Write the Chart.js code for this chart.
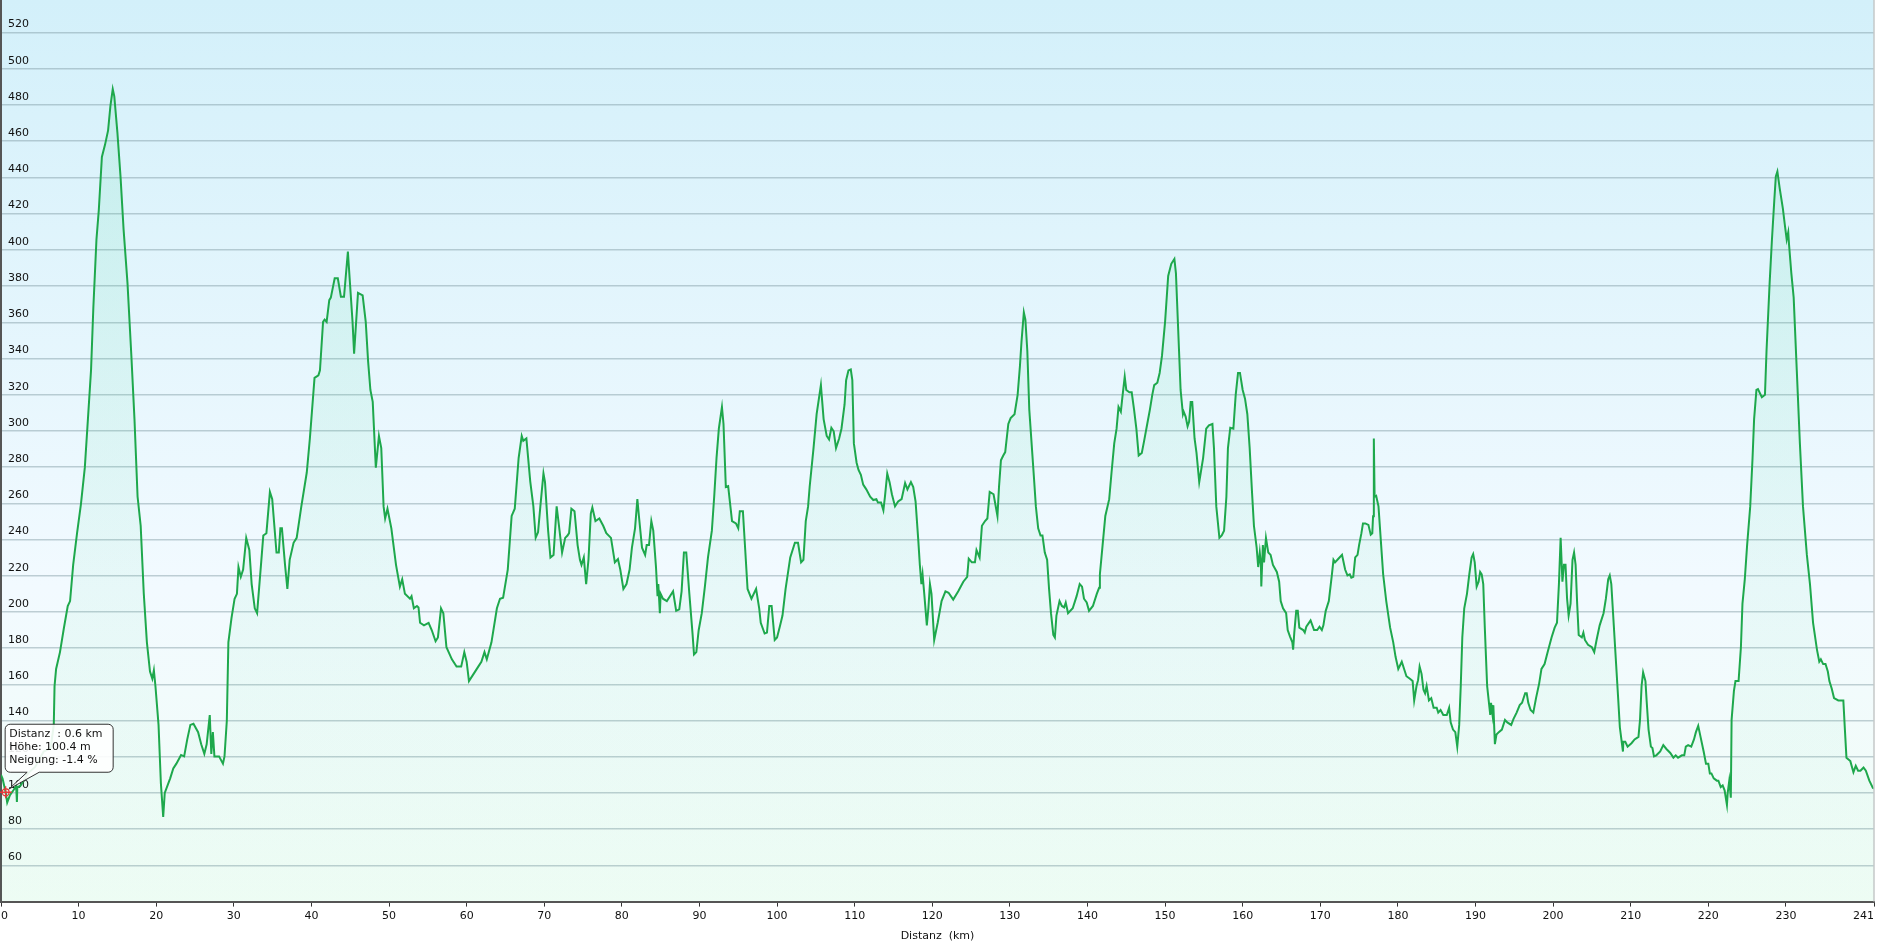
<!DOCTYPE html>
<html>
<head>
<meta charset="utf-8">
<script src="https://cdn.jsdelivr.net/npm/chart.js@4.4.0/dist/chart.umd.min.js"></script>
<style>
  html, body { margin: 0; padding: 0; background: #fff; }
</style>
</head>
<body>
<canvas id="profile" width="1880" height="947"></canvas>
<script>
var distKm = [
  0,0.2,0.6,0.8,1.15,1.6,1.95,2.05,2.1,2.5,
  3.5,4.4,5.5,6.4,6.8,6.9,7.1,7.6,8.1,8.6,
  8.9,9.3,9.8,10.3,10.8,11.2,11.6,11.9,12.3,12.6,
  13,13.4,13.8,14.1,14.4,14.6,15,15.4,15.8,16.3,
  16.8,17.2,17.6,18,18.4,18.8,19.2,19.5,19.7,19.9,
  20.3,20.6,20.9,21.1,21.8,22.2,22.6,23.2,23.6,24,
  24.4,24.8,25.4,25.8,26.2,26.5,26.9,27.1,27.3,27.5,
  28.1,28.6,28.8,29.1,29.3,29.7,30.1,30.4,30.6,30.9,
  31.2,31.6,32,32.3,32.7,33,33.5,33.8,34.2,34.65,
  34.95,35.5,35.8,36,36.2,36.6,36.9,37.2,37.7,38.1,
  38.7,39.4,39.8,40.4,40.9,41.1,41.5,41.7,41.96,42.3,
  42.5,43,43.4,43.8,44.2,44.7,44.8,45.3,45.5,46,
  46.6,47,47.3,47.6,47.9,48.3,48.7,49,49.3,49.5,
  49.8,50.3,50.9,51.4,51.7,52.05,52.7,52.9,53.2,53.6,
  53.8,54,54.5,55.1,55.5,56,56.3,56.7,57,57.4,
  58.1,58.7,59.3,59.7,60,60.3,60.9,61.5,61.9,62.3,
  62.6,63.2,63.9,64.3,64.7,65.3,65.8,66.2,66.7,67.1,
  67.3,67.7,68.2,68.6,68.9,69.2,69.5,69.9,70.1,70.5,
  70.8,71.2,71.6,71.9,72.3,72.7,73,73.2,73.5,73.9,
  74.3,74.6,74.8,75.1,75.4,75.7,76,76.2,76.6,77.1,
  77.6,78,78.6,79.1,79.5,79.8,80.2,80.6,81,81.3,
  81.7,82,82.2,82.6,83,83.2,83.5,83.8,84.05,84.4,
  84.6,84.7,84.9,85,85.3,85.8,86.2,86.6,87,87.4,
  87.7,88,88.3,88.7,89.1,89.3,89.6,89.9,90.3,90.7,
  91.1,91.6,91.9,92.2,92.5,92.9,93.1,93.4,93.7,94.2,
  94.7,95,95.2,95.6,95.9,96.2,96.7,97.3,97.7,97.9,
  98.4,98.7,99,99.3,99.7,100,100.4,100.7,101.1,101.7,
  102.3,102.7,103.1,103.4,103.7,104,104.2,104.7,105.1,105.65,
  106,106.4,106.7,107,107.3,107.6,108,108.3,108.7,108.9,
  109.2,109.5,109.7,109.9,110.25,110.5,110.8,111.1,111.5,112,
  112.4,112.8,113,113.4,113.7,113.9,114.2,114.5,114.8,115.2,
  115.6,116.05,116.5,116.8,117.25,117.55,117.85,118.2,118.4,118.6,
  118.75,118.97,119.3,119.5,119.7,119.9,120.25,120.7,121.2,121.7,
  122.1,122.7,123.35,124,124.5,124.7,125.1,125.5,125.7,126.1,
  126.4,126.8,127.1,127.4,127.9,128.4,128.6,128.85,129.15,129.4,
  129.8,130.1,130.6,131,131.3,131.5,131.8,132,132.25,132.5,
  132.8,133.1,133.35,133.65,133.95,134.2,134.5,134.8,135.05,135.3,
  135.6,135.8,136,136.4,136.7,137,137.2,137.5,138.1,138.6,
  139,139.3,139.55,139.9,140.2,140.7,141.2,141.5,141.6,141.95,
  142.3,142.8,143.1,143.45,143.75,144,144.3,144.5,144.8,145,
  145.4,145.7,146,146.3,146.6,147,147.3,147.7,148.05,148.35,
  148.6,149,149.3,149.6,150,150.4,150.8,151.2,151.4,151.7,
  152,152.3,152.4,152.65,152.9,153.1,153.3,153.5,153.8,154.05,
  154.4,154.6,154.9,155.3,155.65,156.1,156.3,156.6,157,157.3,
  157.6,157.9,158.1,158.4,158.8,159.1,159.4,159.65,160,160.3,
  160.6,160.9,161.2,161.45,161.8,162,162.2,162.35,162.4,162.6,
  162.75,163,163.3,163.6,163.9,164.4,164.7,164.9,165.2,165.6,
  165.8,166.1,166.4,166.5,166.65,166.9,167.1,167.3,167.8,168,
  168.2,168.75,169.2,169.6,169.9,170.2,170.4,170.7,171.1,171.5,
  171.7,171.9,172.3,172.8,173.2,173.5,173.8,174,174.25,174.5,
  174.8,175,175.3,175.5,175.8,176.2,176.5,176.7,176.8,176.9,
  177,177.2,177.5,177.8,178.1,178.5,179,179.4,179.7,180.05,
  180.5,180.8,181.1,181.55,181.9,182.1,182.4,182.6,182.8,183.05,
  183.3,183.5,183.7,184,184.3,184.6,185,185.2,185.5,185.85,
  186.3,186.6,186.8,187.1,187.4,187.65,187.9,188.1,188.3,188.55,
  188.9,189.2,189.5,189.7,189.9,190.15,190.4,190.6,190.8,191,
  191.2,191.5,191.9,192,192.2,192.3,192.5,192.7,193,193.4,
  193.8,194.1,194.6,194.9,195.3,195.7,196,196.4,196.6,196.8,
  197.1,197.45,197.8,198.2,198.5,198.9,199.3,199.8,200.2,200.5,
  200.75,200.97,201.2,201.4,201.6,201.8,202,202.25,202.5,202.7,
  202.9,203.1,203.3,203.7,203.9,204.1,204.5,205,205.3,205.6,
  206,206.5,206.8,207.1,207.3,207.5,207.8,208.1,208.4,208.6,
  208.8,209,209.05,209.3,209.6,210.1,210.5,211,211.2,211.4,
  211.6,211.9,212.05,212.3,212.6,212.8,213,213.3,213.8,214.2,
  214.6,215.1,215.5,215.8,216.1,216.6,216.9,217.1,217.4,217.8,
  218.15,218.4,218.7,219,219.4,219.7,220,220.2,220.4,220.7,
  221.1,221.3,221.6,221.85,222.1,222.4,222.5,222.7,222.9,223,
  223.3,223.5,223.9,224.2,224.4,224.7,225,225.4,225.7,225.9,
  226.2,226.4,226.9,227.3,227.5,227.9,228.2,228.5,228.7,228.9,
  229.2,229.6,229.9,230.1,230.3,230.4,230.7,231,231.4,231.8,
  232.2,232.7,233.1,233.5,234,234.3,234.5,234.8,235.1,235.4,
  235.6,235.9,236.2,236.75,237.4,237.6,237.8,238.3,238.7,239,
  239.3,239.6,240,240.3,240.75,241.2,241.35
];

var elevM = [
  110,108,100.4,94.7,98.8,101.5,104,95,103,104,
  111,114.4,122.9,124.8,137.6,159,168.5,177.8,191,203.3,
  206,226,243.5,259.6,279.7,306.5,333.4,368.2,405.7,421.8,
  451.3,458,466,479.5,488.8,484.8,464.7,440.6,411,381.6,
  341.4,306.5,263.6,247.6,210,183.2,167.1,163.1,167.7,159.1,
  137.6,105.5,86.7,100,108.1,113.5,116.2,121,120.2,129.6,
  137.6,138.2,133.6,126.9,121.6,126.9,143,121.6,133.6,120.2,
  120.2,116.2,120.2,140,183.2,196.6,207.3,210,224.8,219.4,
  223.4,240.9,234.2,215.4,202,199.3,226,242.2,243.5,266.3,
  262.3,232.8,232.8,246.2,246.2,226,212.7,228.8,238.2,240.9,
  258.3,277,295.8,329.3,330.7,333.4,360.2,361.5,360.2,372.2,
  373.6,384.3,384.3,374.1,374.1,399,392.3,360.2,342.7,376.2,
  374.9,360.2,338.7,322.6,316,279.7,297.2,290.5,258.3,251.6,
  257,246.2,226,214,218,210,207.3,208.7,202,203.3,
  202.5,194,192.6,194,190,183.8,185.9,202,199.3,180.5,
  173.8,169.8,169.8,177.8,172.5,161.8,165.8,169.8,172.5,177.8,
  173.8,183.2,202,207.3,207.9,223.4,253,257,285,297.2,
  294.5,295.8,272,258.3,241,244,258.3,276.5,271.7,245,
  230.1,231.5,258.3,247.6,232.8,240.9,242.2,243.5,257,255.6,
  236.9,228.8,226,230.1,215.4,228.8,254.3,257.7,250.2,251.6,
  247.6,243.5,240.9,227.4,229.2,223.4,212.7,215.4,223.4,235.5,
  246.2,262.3,253,235.5,231.5,236.9,236.9,250.2,244.9,224.8,
  208.7,215.4,199.3,210,207.3,206,208.7,211.4,200.6,201.4,
  211.4,232.8,232.8,210,188.6,176.5,177.8,189.9,199.3,214,
  230.1,244.9,263.6,285,301.2,313.2,303.8,269,269.5,250.2,
  248.9,246.2,255.6,255.6,234.2,212.7,207.3,212.7,202,194,
  188.1,188.6,203.3,203.3,184.5,185.9,192.6,198,212.7,230.1,
  238.2,238.2,227.4,228.8,250.2,258.3,269,290.5,309.2,325.3,
  306.5,297.2,295.3,301.7,299.8,290.5,295.8,301.2,314.6,328,
  333.4,333.9,328,293.1,282.4,278.4,275.7,270.3,267.7,263.6,
  261.8,262.3,260.4,260.4,256.1,263.6,276.5,271.7,265,258.3,
  261,262.3,271.2,267.7,271.7,269,261,239.5,226,215.4,
  220.8,210,192.6,202,215.4,210,184.5,194,206,211.4,
  210.6,206.8,211.4,216.7,219.4,229.4,227.4,227.4,234.2,230.1,
  247.6,250.2,251.6,266.3,265,253,269,283.8,286.4,288.3,
  303.8,307.1,309.2,319.9,336,349.4,365.5,361.5,344.1,311.9,
  293.1,274.4,258.3,246.2,242.2,242.2,232.8,228.8,212.7,199.3,
  187.3,185.9,198,206,203.3,202.5,205.2,199.3,202,208.7,
  215.4,214,207.3,205.2,200.6,203.3,210,213.3,220.8,236.9,
  253,262.3,277,293.1,301.2,313.2,310.6,318.6,329.9,322.6,
  321.3,321.3,311.9,301.2,286.4,287.8,294.5,303.8,311.9,319.9,
  325.3,326.6,332,341.4,360.2,385.6,392.3,395,387,354.8,
  322.6,309.2,310.6,307.9,302.5,305.2,315.9,315.9,295.8,287.8,
  271.7,277,285,301.2,303.1,303.8,290.5,258.3,240.9,242.2,
  244.9,263.6,290.5,301.7,301.2,319.9,332,332,322.6,317.8,
  309.2,290.5,266.3,247.6,235.5,224.8,232.8,226,214,236.9,
  227.4,240.9,232.8,231.5,226,222.1,216.7,206,202,199.3,
  190,186.4,183.2,179.2,188.6,200.6,200.6,191.3,190,188.6,
  191.8,195.3,190,190,191.8,190,192.6,200.6,206,220.8,
  228.8,227.4,229.2,231.5,223.4,220.2,220.8,218.9,219.4,230.1,
  231.5,236.9,243.5,248.9,248.9,248.1,242.7,243.5,252.9,295.8,
  263.6,264.1,258.3,239.5,220.8,206,191.3,183.2,175.2,168.5,
  172.5,168.5,164.5,163.1,161.8,151.1,159.1,162.3,169.8,165.8,
  157,155.1,159.1,151.1,152.4,147.1,147.1,144.4,145.8,143.1,
  143.1,147.1,139,135,133.6,125.6,137.6,159.1,185.9,202,
  210,220.8,230.1,232,227.4,214,216.7,222.1,220.8,215.4,
  191.3,159.1,143.1,149.8,143.1,148.5,127,132.3,133.6,135,
  140.4,139,137.6,140.9,144.4,148.5,149.8,155.1,155.1,149.8,
  145.8,144.4,152.4,160.4,168.5,171.2,177.8,185.9,191.3,194,
  215.4,240.9,216.7,226,226,207.3,198,204.6,228.8,232.8,
  226,204.6,187.2,185.9,188.6,184.5,181.8,180.5,177.8,184.5,
  192.6,199.3,207.3,218,220.2,215.4,194,172.5,151.1,136.3,
  129.6,122.9,128.3,128.3,125.6,127.5,129.6,131,140.4,159.1,
  166.6,161.8,151.1,135,125.6,124.8,120.2,120.8,122.9,126.4,
  124.3,122.1,119.5,120.8,119.5,120.8,120.8,125.6,126.4,125.6,
  129.6,133.6,137.1,131,122.9,116.2,116.2,110.8,110.8,108.1,
  106.8,106.8,103.3,104.2,101.5,93.4,100.1,106.8,97.4,140.4,
  156.4,161.8,161.8,180.5,204.6,218,236.9,258.3,285,306.5,
  322.6,323.1,318.6,319.9,344.1,381.6,405.7,427.2,440.6,443.3,
  433.9,423.1,412.4,405.7,409.7,403,387,373.6,333.4,293.1,
  258.3,231.5,215.4,194,179.2,172.5,173.8,171.2,171.2,167.1,
  161.8,157.7,152.4,151.1,151.1,135,119.5,117.6,111.5,115,
  112.3,112.3,114.1,112.3,106.8,102.8,102.3
];

var xTicks = [0,10,20,30,40,50,60,70,80,90,100,110,120,130,140,150,160,170,180,190,200,210,220,230,241.35];
var yTicks = [60,80,100,120,140,160,180,200,220,240,260,280,300,320,340,360,380,400,420,440,460,480,500,520];

// Infobox am Startpunkt
var hoverKm = 0.6;
var hoverElev = 100.4;
var hoverSlope = -1.4;

var points = [];
for (var i = 0; i < distKm.length; i++) {
  points.push({x: distKm[i], y: elevM[i]});
}

Chart.defaults.font.family = '"DejaVu Sans", Verdana, sans-serif';
Chart.defaults.font.size = 11;
Chart.defaults.color = '#111';

var backdrop = {
  id: 'backdrop',
  beforeDraw: function(chart) {
    var a = chart.chartArea, ctx = chart.ctx;
    var g = ctx.createLinearGradient(0, a.top, 0, a.bottom);
    g.addColorStop(0, '#d3f0fa');
    g.addColorStop(0.65, '#f2faff');
    g.addColorStop(1, '#f1fdf6');
    ctx.save();
    ctx.fillStyle = g;
    ctx.fillRect(a.left, a.top, a.right - a.left, a.bottom - a.top);
    ctx.restore();
  },
  afterDraw: function(chart) {
    var a = chart.chartArea, ctx = chart.ctx;
    ctx.save();
    // rechter Rand
    ctx.strokeStyle = '#c4c8c8';
    ctx.lineWidth = 1.5;
    ctx.beginPath();
    ctx.moveTo(a.right, a.top);
    ctx.lineTo(a.right, a.bottom);
    ctx.stroke();

    var px = chart.scales.x.getPixelForValue(hoverKm);
    var py = chart.scales.y.getPixelForValue(hoverElev);

    // Sprechblase
    var bx = px - 0.5, by = py - 68, bw = 108, bh = 48, r = 5;
    ctx.beginPath();
    ctx.moveTo(bx + r, by);
    ctx.lineTo(bx + bw - r, by);
    ctx.arcTo(bx + bw, by, bx + bw, by + r, r);
    ctx.lineTo(bx + bw, by + bh - r);
    ctx.arcTo(bx + bw, by + bh, bx + bw - r, by + bh, r);
    ctx.lineTo(bx + 34, by + bh);
    ctx.lineTo(px + 3, py - 3);
    ctx.lineTo(bx + 22, by + bh);
    ctx.lineTo(bx + r, by + bh);
    ctx.arcTo(bx, by + bh, bx, by + bh - r, r);
    ctx.lineTo(bx, by + r);
    ctx.arcTo(bx, by, bx + r, by, r);
    ctx.closePath();
    ctx.fillStyle = 'rgba(255,255,255,0.9)';
    ctx.fill();
    ctx.strokeStyle = '#333';
    ctx.lineWidth = 1;
    ctx.stroke();

    ctx.fillStyle = '#111';
    ctx.font = '11px "DejaVu Sans", Verdana, sans-serif';
    ctx.textBaseline = 'middle';
    ctx.textAlign = 'left';
    ctx.fillText('Distanz  : ' + hoverKm + ' km', bx + 4, by + 10);
    ctx.fillText('Höhe: ' + hoverElev + ' m', bx + 4, by + 23);
    ctx.fillText('Neigung: ' + hoverSlope + ' %', bx + 4, by + 36);

    // Markierung
    ctx.strokeStyle = '#e8393a';
    ctx.lineWidth = 1.3;
    ctx.beginPath();
    ctx.arc(px, py, 3.5, 0, Math.PI * 2);
    ctx.moveTo(px - 6, py); ctx.lineTo(px + 6, py);
    ctx.moveTo(px, py - 6); ctx.lineTo(px, py + 6);
    ctx.stroke();
    ctx.restore();
  }
};

var fillGradient = function(context) {
  var a = context.chart.chartArea;
  if (!a) return 'rgba(40,200,120,0.07)';
  var g = context.chart.ctx.createLinearGradient(0, a.top, 0, a.bottom);
  g.addColorStop(0, 'rgba(40,210,130,0.12)');
  g.addColorStop(1, 'rgba(40,210,130,0.02)');
  return g;
};

var ctx = document.getElementById('profile');
var profileChart = new Chart(ctx, {
  type: 'line',
  data: {
    datasets: [{
      label: 'Höhe',
      data: points,
      borderColor: '#1ea84c',
      borderWidth: 2,
      backgroundColor: fillGradient,
      fill: 'start',
      pointRadius: 0,
      tension: 0
    }]
  },
  options: {
    responsive: false,
    animation: false,
    layout: { padding: { left: 1, right: 6, top: 0, bottom: 0 } },
    plugins: {
      legend: { display: false },
      tooltip: { enabled: false }
    },
    scales: {
      x: {
        type: 'linear',
        min: 0,
        max: 241.35,
        afterBuildTicks: function(scale) {
          scale.ticks = xTicks.map(function(v) { return {value: v}; });
        },
        afterFit: function(scale) {
          scale.paddingLeft = 0;
          scale.paddingRight = 0;
        },
        ticks: {
          align: 'inner',
          padding: 3,
          maxRotation: 0,
          autoSkip: false,
          callback: function(v) { return Math.floor(v); }
        },
        grid: { drawOnChartArea: false, drawTicks: true, tickLength: 5, tickColor: '#333', lineWidth: 1 },
        border: { color: '#555', width: 2 },
        title: { display: true, text: 'Distanz  (km)', padding: { top: 4, bottom: 4 }, font: { size: 11 } }
      },
      y: {
        min: 40,
        max: 538,
        afterBuildTicks: function(scale) {
          scale.ticks = yTicks.map(function(v) { return {value: v}; });
        },
        afterFit: function(scale) {
          scale.width = 0;
          scale.paddingTop = 0;
          scale.paddingBottom = 0;
        },
        ticks: { mirror: true, padding: 7, labelOffset: -8, color: '#111' },
        grid: { color: 'rgba(125,150,160,0.45)', lineWidth: 1.5, drawTicks: false },
        border: { color: '#555', width: 2 }
      }
    }
  },
  plugins: [backdrop]
});
</script>
</body>
</html>
